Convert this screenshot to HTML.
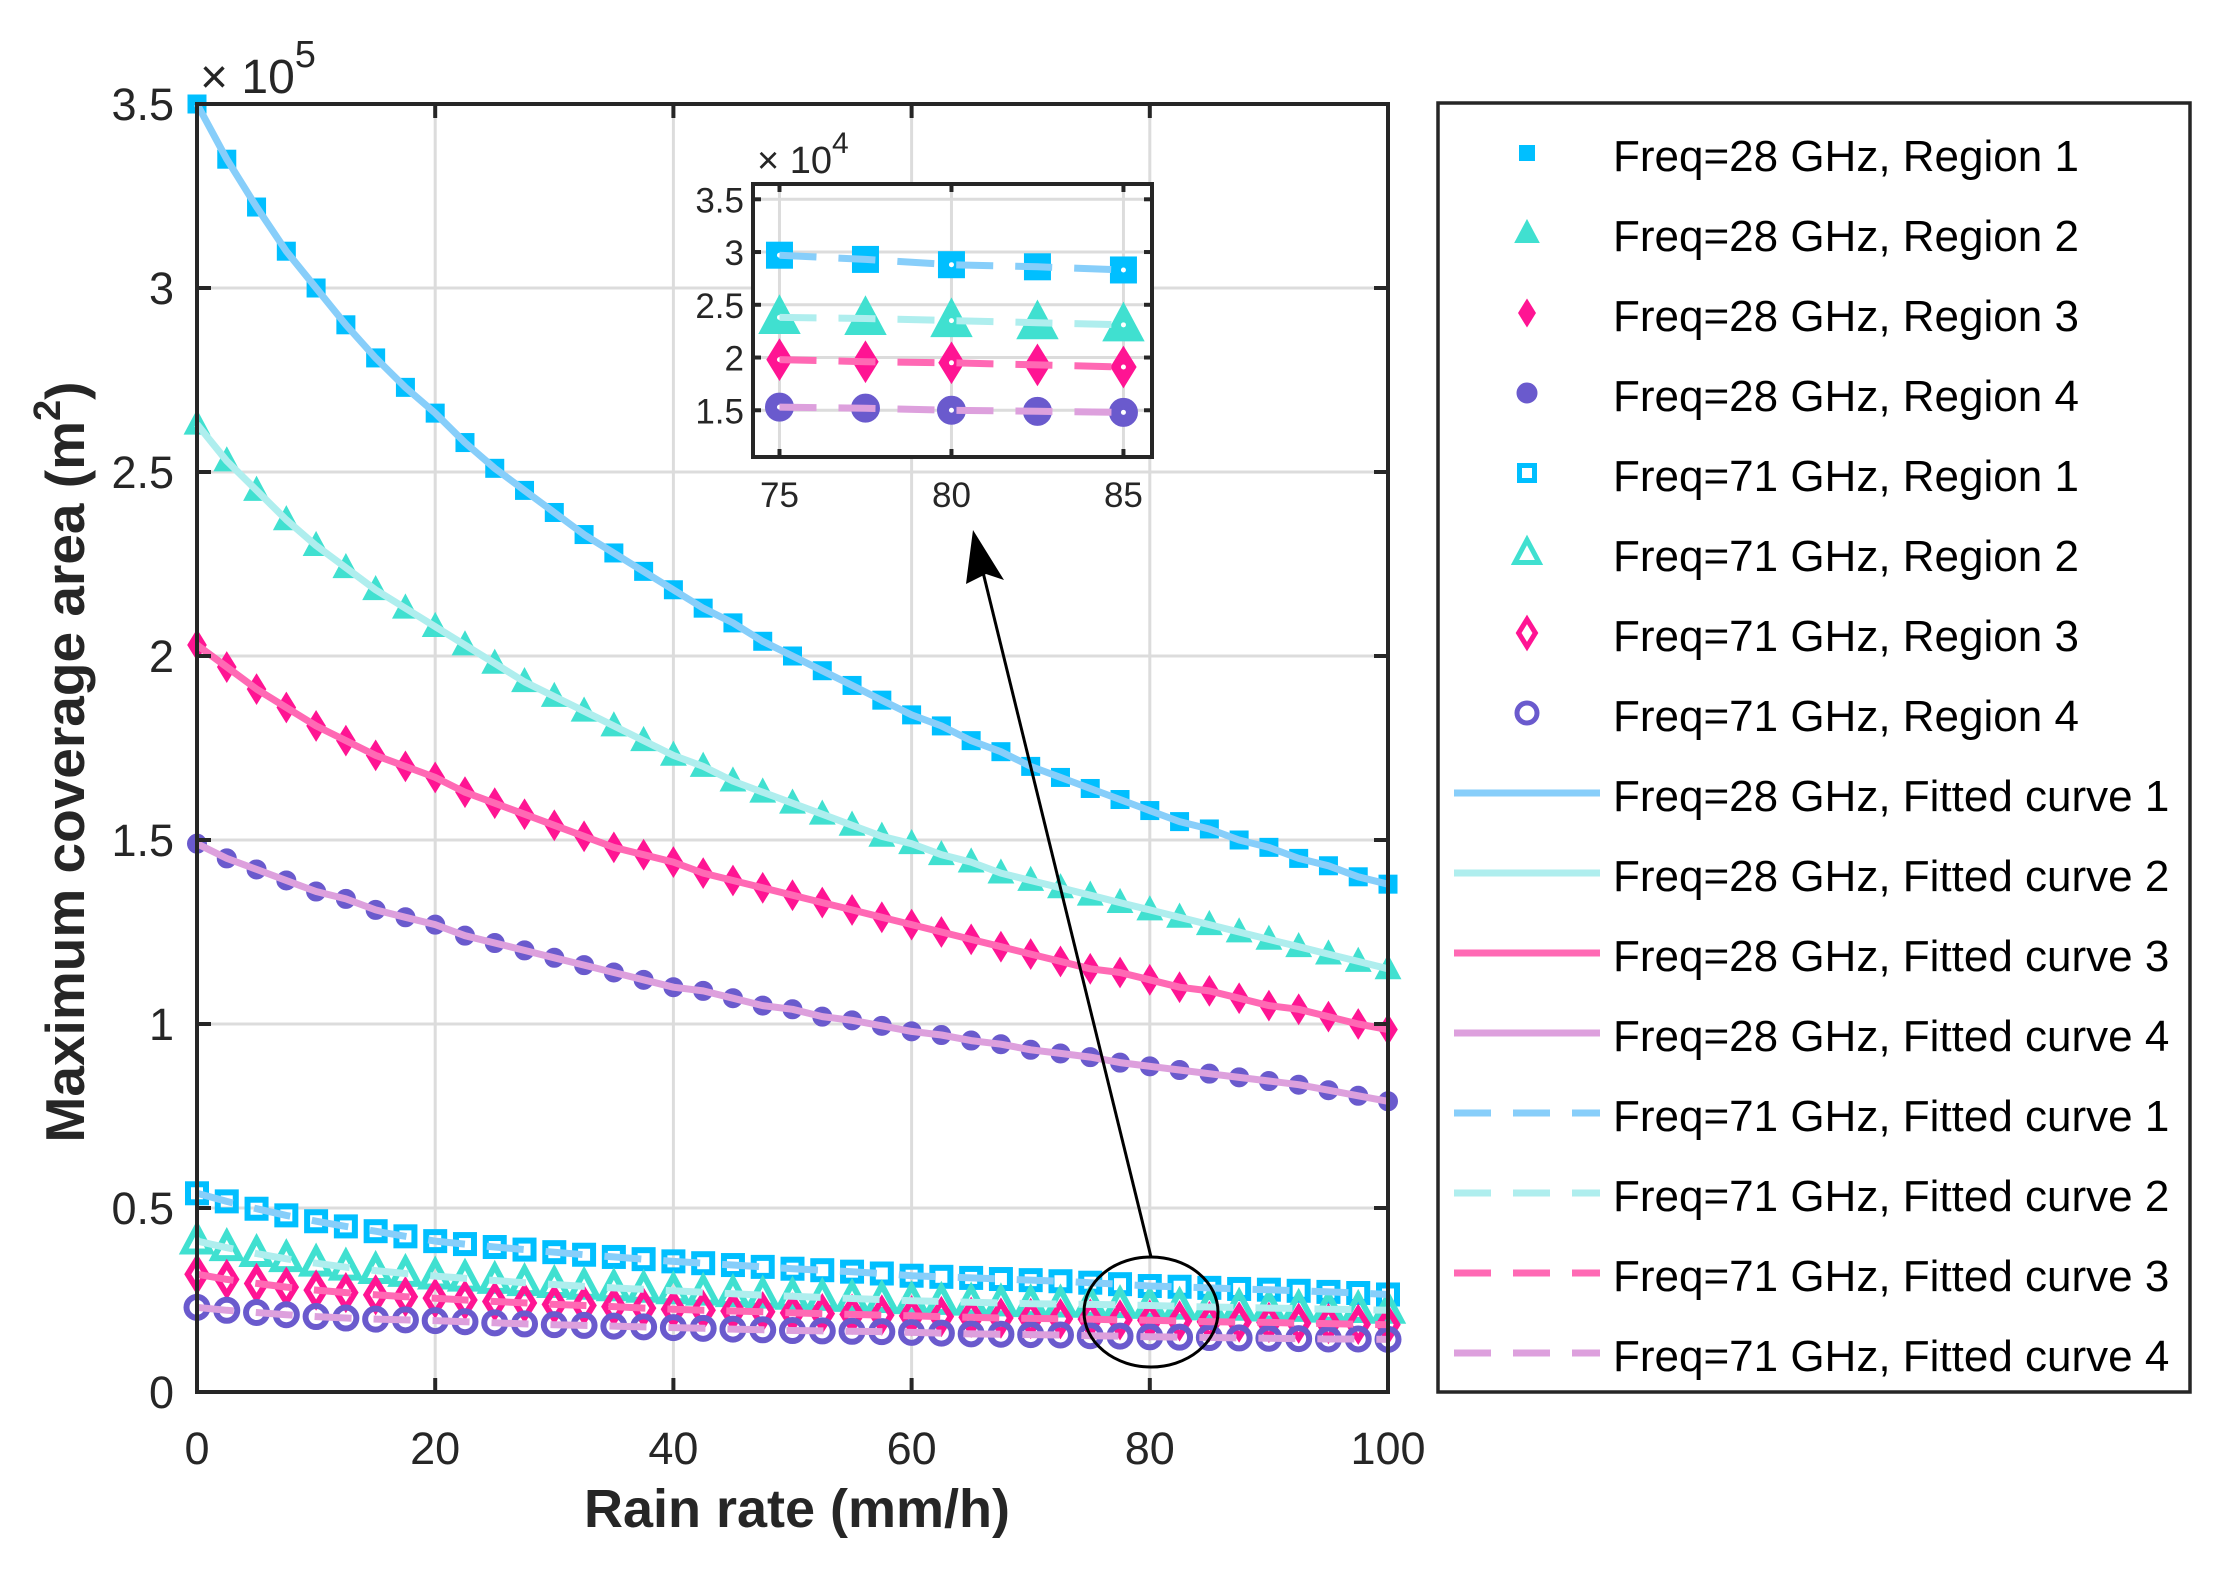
<!DOCTYPE html>
<html><head><meta charset="utf-8">
<style>
html,body{margin:0;padding:0;background:#fff;}
svg{display:block;font-family:"Liberation Sans",Arial,sans-serif;}
</style></head>
<body>
<svg id="chart" width="2232" height="1569" viewBox="0 0 2232 1569" xmlns="http://www.w3.org/2000/svg"></svg>
<script>
// ---- data (units of 1e5 m^2) ----
const rainRates = [0,2.5,5,7.5,10,12.5,15,17.5,20,22.5,25,27.5,30,32.5,35,37.5,40,42.5,45,47.5,50,52.5,55,57.5,60,62.5,65,67.5,70,72.5,75,77.5,80,82.5,85,87.5,90,92.5,95,97.5,100];
const f28r1 = [3.50,3.35,3.22,3.10,3.00,2.90,2.81,2.73,2.66,2.58,2.51,2.45,2.39,2.33,2.28,2.23,2.18,2.13,2.09,2.04,2.00,1.96,1.92,1.88,1.84,1.81,1.77,1.74,1.70,1.67,1.64,1.61,1.58,1.55,1.53,1.50,1.48,1.45,1.43,1.40,1.38];
const f28r2 = [2.63,2.53,2.45,2.37,2.30,2.24,2.18,2.13,2.08,2.03,1.98,1.93,1.89,1.85,1.81,1.77,1.73,1.70,1.66,1.63,1.60,1.57,1.54,1.51,1.49,1.46,1.44,1.41,1.39,1.37,1.35,1.33,1.31,1.29,1.27,1.25,1.23,1.21,1.19,1.17,1.15];
const f28r3 = [2.03,1.97,1.91,1.86,1.81,1.77,1.73,1.70,1.67,1.63,1.60,1.57,1.54,1.51,1.48,1.46,1.44,1.41,1.39,1.37,1.35,1.33,1.31,1.29,1.27,1.25,1.23,1.21,1.19,1.17,1.15,1.14,1.12,1.10,1.09,1.07,1.05,1.04,1.02,1.00,0.985];
const f28r4 = [1.49,1.45,1.42,1.39,1.36,1.34,1.31,1.29,1.27,1.24,1.22,1.20,1.18,1.16,1.14,1.12,1.10,1.09,1.07,1.05,1.04,1.02,1.01,0.995,0.98,0.97,0.955,0.945,0.93,0.92,0.91,0.895,0.885,0.875,0.865,0.855,0.845,0.835,0.82,0.805,0.79];
const f71r1 = [0.540,0.518,0.498,0.480,0.464,0.450,0.437,0.423,0.410,0.402,0.394,0.387,0.380,0.373,0.367,0.361,0.355,0.350,0.345,0.340,0.335,0.331,0.327,0.322,0.316,0.313,0.310,0.307,0.304,0.301,0.297,0.293,0.288,0.286,0.283,0.280,0.278,0.275,0.272,0.269,0.265];
const f71r2 = [0.410,0.392,0.376,0.362,0.350,0.339,0.330,0.322,0.315,0.309,0.303,0.297,0.292,0.287,0.283,0.279,0.275,0.271,0.267,0.263,0.260,0.257,0.254,0.251,0.248,0.246,0.244,0.242,0.240,0.239,0.238,0.237,0.235,0.233,0.231,0.230,0.228,0.227,0.225,0.224,0.222];
const f71r3 = [0.320,0.306,0.295,0.285,0.277,0.270,0.264,0.259,0.255,0.250,0.246,0.242,0.238,0.235,0.232,0.228,0.225,0.222,0.220,0.218,0.215,0.213,0.211,0.209,0.207,0.205,0.203,0.201,0.200,0.199,0.198,0.196,0.195,0.193,0.191,0.190,0.189,0.187,0.186,0.184,0.183];
const f71r4 = [0.230,0.222,0.216,0.210,0.205,0.201,0.198,0.196,0.194,0.191,0.188,0.185,0.183,0.181,0.179,0.177,0.175,0.173,0.171,0.169,0.167,0.166,0.165,0.164,0.162,0.160,0.158,0.157,0.156,0.155,0.153,0.152,0.150,0.149,0.148,0.147,0.146,0.145,0.144,0.144,0.143];
const xTicks = [0,20,40,60,80,100];
const yTicks = [0,0.5,1,1.5,2,2.5,3,3.5];
const yTickLabels = ["0","0.5","1","1.5","2","2.5","3","3.5"];
const insetXTicks = [75,80,85];
const insetYTicks = [1.5,2,2.5,3,3.5];
const insetYTickLabels = ["1.5","2","2.5","3","3.5"];
const legendLabels = ["Freq=28 GHz, Region 1","Freq=28 GHz, Region 2","Freq=28 GHz, Region 3","Freq=28 GHz, Region 4","Freq=71 GHz, Region 1","Freq=71 GHz, Region 2","Freq=71 GHz, Region 3","Freq=71 GHz, Region 4","Freq=28 GHz, Fitted curve 1","Freq=28 GHz, Fitted curve 2","Freq=28 GHz, Fitted curve 3","Freq=28 GHz, Fitted curve 4","Freq=71 GHz, Fitted curve 1","Freq=71 GHz, Fitted curve 2","Freq=71 GHz, Fitted curve 3","Freq=71 GHz, Fitted curve 4"];

const NS="http://www.w3.org/2000/svg";
const svg=document.getElementById('chart');
function el(tag,attrs,parent){const e=document.createElementNS(NS,tag);for(const k in attrs)e.setAttribute(k,attrs[k]);(parent||svg).appendChild(e);return e;}

const series=[
 {d:f28r1,m:'square',fill:true,mc:'#00BFFF',lc:'#87CEFA',dash:false,key:'28-r1'},
 {d:f28r2,m:'tri',fill:true,mc:'#40E0D0',lc:'#AFEEEE',dash:false,key:'28-r2'},
 {d:f28r3,m:'diamond',fill:true,mc:'#FF1493',lc:'#FF69B4',dash:false,key:'28-r3'},
 {d:f28r4,m:'circle',fill:true,mc:'#6A5ACD',lc:'#DDA0DD',dash:false,key:'28-r4'},
 {d:f71r1,m:'square',fill:false,mc:'#00BFFF',lc:'#87CEFA',dash:true,key:'71-r1'},
 {d:f71r2,m:'tri',fill:false,mc:'#40E0D0',lc:'#AFEEEE',dash:true,key:'71-r2'},
 {d:f71r3,m:'diamond',fill:false,mc:'#FF1493',lc:'#FF69B4',dash:true,key:'71-r3'},
 {d:f71r4,m:'circle',fill:false,mc:'#6A5ACD',lc:'#DDA0DD',dash:true,key:'71-r4'}
];

function marker(g,type,cx,cy,s,color,fill,sw){
  let e;
  const st=fill?{fill:color,stroke:color,'stroke-width':1}:{fill:'none',stroke:color,'stroke-width':sw};
  if(type==='square'){e=el('rect',Object.assign({x:cx-s/2,y:cy-s/2,width:s,height:s},st),g);}
  else if(type==='tri'){const h=s*1.05;e=el('polygon',Object.assign({points:`${cx},${cy-h*0.62} ${cx+s*0.6},${cy+h*0.45} ${cx-s*0.6},${cy+h*0.45}`},st),g);}
  else if(type==='diamond'){e=el('polygon',Object.assign({points:`${cx},${cy-s*0.68} ${cx+s*0.42},${cy} ${cx},${cy+s*0.68} ${cx-s*0.42},${cy}`},st),g);}
  else {e=el('ellipse',Object.assign({cx:cx,cy:cy,rx:s*0.5,ry:s*0.5},st),g);}
  return e;
}

// ---- main axes ----
const L=197,R=1388,T=104,B=1392;
const xS=v=>L+(v-0)/(100-0)*(R-L);
const yS=v=>B-(v-0)/(3.5-0)*(B-T);
const INK='#262626';

const grid=el('g',{});
 
xTicks.forEach(v=>{if(v>0&&v<100){el('line',{x1:xS(v),x2:xS(v),y1:T,y2:B,stroke:'#dcdcdc','stroke-width':3},grid);}});
yTicks.forEach(v=>{if(v>0&&v<3.5){el('line',{x1:L,x2:R,y1:yS(v),y2:yS(v),stroke:'#dcdcdc','stroke-width':3},grid);}});

const plot=el('g',{});
 
const smallSize={square:18,circle:19,tri:21,diamond:22};
const hollowSize={square:18,circle:21,tri:22,diamond:22};
const bigSize={square:26,circle:28,tri:34,diamond:30};
function drawSeries(g,xs,ys,s,xf,yf,big,filter){
  const mg=el('g',{},g);
  
  
  xs.forEach((x,i)=>{ if(filter&&!filter(x))return;
    const sz = big ? bigSize[s.m] : (s.fill?smallSize[s.m]:hollowSize[s.m]);
    const m=marker(mg,s.m,xf(x),yf(ys[i]),sz,s.mc,s.fill||big,6);
    
    
    if(big&&!s.fill){el('circle',{cx:xf(x),cy:yf(ys[i]),r:2.5,fill:'#fff'},mg);}
  });
}
function drawLine(g,xs,ys,s,xf,yf,filter){
  const pts=[];xs.forEach((x,i)=>{if(filter&&!filter(x))return;pts.push(xf(x).toFixed(1)+','+yf(ys[i]).toFixed(1));});
  const p=el('polyline',{points:pts.join(' '),fill:'none',stroke:s.lc,'stroke-width':7,'stroke-dasharray':s.dash?'37 22':'none','stroke-linejoin':'round'},g);
  
  
}
series.forEach(s=>drawSeries(plot,rainRates,s.d,s,xS,yS,false));
series.forEach(s=>drawLine(plot,rainRates,s.d,s,xS,yS));

// axes box + ticks
const ax=el('g',{});
 
el('rect',{x:L,y:T,width:R-L,height:B-T,fill:'none',stroke:INK,'stroke-width':4},ax);
xTicks.forEach(v=>{
  el('line',{x1:xS(v),x2:xS(v),y1:B,y2:B-14,stroke:INK,'stroke-width':4},ax);
  el('line',{x1:xS(v),x2:xS(v),y1:T,y2:T+14,stroke:INK,'stroke-width':4},ax);
  const t=el('text',{x:xS(v),y:1464,'font-size':45,fill:INK,'text-anchor':'middle'},ax);t.textContent=v;
  
});
yTicks.forEach((v,i)=>{
  el('line',{x1:L,x2:L+14,y1:yS(v),y2:yS(v),stroke:INK,'stroke-width':4},ax);
  el('line',{x1:R,x2:R-14,y1:yS(v),y2:yS(v),stroke:INK,'stroke-width':4},ax);
  const t=el('text',{x:174,y:yS(v)+16,'font-size':45,fill:INK,'text-anchor':'end'},ax);t.textContent=yTickLabels[i];
  
});
const ex=el('text',{x:200,y:93,'font-size':48,fill:INK},ax);

ex.innerHTML='× 10<tspan dy="-26" font-size="38">5</tspan>';
const xl=el('text',{x:797,y:1527,'font-size':54,'font-weight':'bold',fill:INK,'text-anchor':'middle'});
 
xl.textContent='Rain rate (mm/h)';
const yl=el('text',{x:0,y:0,'font-size':55,'font-weight':'bold',fill:INK,'text-anchor':'middle',transform:'translate(84,762) rotate(-90)'});
 
yl.innerHTML='Maximum coverage area (m<tspan dy="-24" font-size="38">2</tspan><tspan dy="24">)</tspan>';

// ---- zoom ellipse and arrow ----
const ann=el('g',{});
 
el('ellipse',{cx:1151,cy:1312,rx:67,ry:55,fill:'none',stroke:'#000','stroke-width':3},ann);
el('line',{x1:1151,y1:1257,x2:980,y2:560,stroke:'#000','stroke-width':3},ann);
el('polygon',{points:'973,530 1004,580 986,574 966,584',fill:'#000'},ann);

// ---- inset ----
const iL=753,iR=1152,iT=184,iB=457;
const ixS=v=>iL+(v-74.23)/(85.83-74.23)*(iR-iL);
const iyS=v=>iB-((v*10)-1.057)/(3.645-1.057)*(iB-iT);
const ins=el('g',{});
 
el('rect',{x:iL,y:iT,width:iR-iL,height:iB-iT,fill:'#fff'},ins);
insetXTicks.forEach(v=>el('line',{x1:ixS(v),x2:ixS(v),y1:iT,y2:iB,stroke:'#dcdcdc','stroke-width':3},ins));
insetYTicks.forEach(v=>el('line',{x1:iL,x2:iR,y1:iyS(v/10),y2:iyS(v/10),stroke:'#dcdcdc','stroke-width':3},ins));
const inF=x=>x>=74&&x<=86;
const cg=el('g',{'clip-path':'url(#insclip)'},ins);
const cp=el('clipPath',{id:'insclip'});el('rect',{x:iL,y:iT,width:iR-iL,height:iB-iT},cp);
series.slice(4).forEach(s=>drawSeries(cg,rainRates,s.d,s,ixS,iyS,true,inF));
series.slice(4).forEach(s=>drawLine(cg,rainRates,s.d,s,ixS,iyS,inF));
el('rect',{x:iL,y:iT,width:iR-iL,height:iB-iT,fill:'none',stroke:INK,'stroke-width':4},ins);
insetXTicks.forEach(v=>{
  el('line',{x1:ixS(v),x2:ixS(v),y1:iB,y2:iB-8,stroke:INK,'stroke-width':4},ins);
  el('line',{x1:ixS(v),x2:ixS(v),y1:iT,y2:iT+8,stroke:INK,'stroke-width':4},ins);
  const t=el('text',{x:ixS(v),y:507,'font-size':35,fill:INK,'text-anchor':'middle'},ins);t.textContent=v;
  
});
insetYTicks.forEach((v,i)=>{
  const y=iyS(v/10);
  el('line',{x1:iL,x2:iL+8,y1:y,y2:y,stroke:INK,'stroke-width':4},ins);
  el('line',{x1:iR,x2:iR-8,y1:y,y2:y,stroke:INK,'stroke-width':4},ins);
  const t=el('text',{x:744,y:y+13,'font-size':35,fill:INK,'text-anchor':'end'},ins);t.textContent=insetYTickLabels[i];
  
});
const iex=el('text',{x:757,y:173,'font-size':38,fill:INK},ins);

iex.innerHTML='× 10<tspan dy="-20" font-size="30">4</tspan>';

// ---- legend ----
const lg=el('g',{});
 
el('rect',{x:1438,y:103,width:752,height:1289,fill:'#fff',stroke:INK,'stroke-width':3.5},lg);
legendLabels.forEach((lab,i)=>{
  const y=155+i*80;
  const eg=el('g',{},lg);
  
  
  if(i<8){const s=series[i];marker(eg,s.m,1527,y-2,s.m==='square'?15:20,s.mc,s.fill,5);}
  else{const s=series[i-8];el('line',{x1:1454,x2:1600,y1:y-2,y2:y-2,stroke:s.lc,'stroke-width':7,'stroke-dasharray':s.dash?'37 22':'none'},eg);}
  const t=el('text',{x:1613,y:y+16,'font-size':44,fill:'#000'},eg);t.textContent=lab;
});
</script>
</body></html>
